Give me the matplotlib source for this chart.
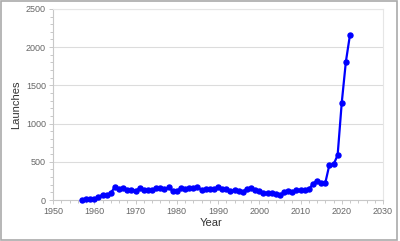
import matplotlib.pyplot as plt
from matplotlib.ticker import MultipleLocator
from matplotlib.patches import Rectangle

years = list(range(1957, 2023))
launches = [2, 8, 14, 19, 35, 72, 61, 92, 170, 141,
            159, 137, 133, 123, 152, 128, 136, 125, 157, 156,
            140, 164, 121, 123, 151, 140, 155, 162, 164, 137,
            144, 148, 141, 175, 138, 139, 112, 127, 113, 106,
            150, 155, 128, 119, 88, 96, 88, 74, 69, 99,
            117, 109, 126, 126, 135, 139, 210, 255, 222, 222,
            460, 465, 586, 1274, 1809, 2163]

plt.rcParams['font.family'] = ['Liberation Sans', 'DejaVu Sans']

fig = plt.figure(figsize=(4, 2.41), dpi=100)
ax = fig.add_axes([0.1325, 0.170, 0.825, 0.793])

ax.plot(years, launches, color="#0000ff", linewidth=1.6, marker="o",
        markersize=3.6, zorder=3, clip_on=False)

ax.set_xlim(1950, 2030)
ax.set_ylim(0, 2500)
ax.xaxis.set_major_locator(MultipleLocator(10))
ax.xaxis.set_minor_locator(MultipleLocator(2))
ax.yaxis.set_major_locator(MultipleLocator(500))
ax.yaxis.set_minor_locator(MultipleLocator(100))
ax.grid(axis="y", which="major", color="#dcdcdc", linewidth=0.8)
ax.set_axisbelow(True)

for side in ["top", "right"]:
    ax.spines[side].set_color("#e6e6e6")
for side in ["left", "bottom"]:
    ax.spines[side].set_color("#c8c8c8")
ax.tick_params(which="both", colors="#c8c8c8", labelcolor="#666666",
               labelsize=6.5, length=3, width=0.7, pad=2)
ax.tick_params(which="minor", length=2)

ax.set_xlabel("Year", fontsize=8, color="#333333")
ax.set_ylabel("Launches", fontsize=8, color="#333333")
ax.xaxis.set_label_coords(0.479, -0.095)
ax.yaxis.set_label_coords(-0.097, 0.5)

fig.patches.append(Rectangle((0.002, 0.006), 0.99, 0.99, transform=fig.transFigure,
                             fill=False, edgecolor="#aaaaaa", linewidth=1.2))

plt.savefig("out.png", dpi=100)
plt.close()
